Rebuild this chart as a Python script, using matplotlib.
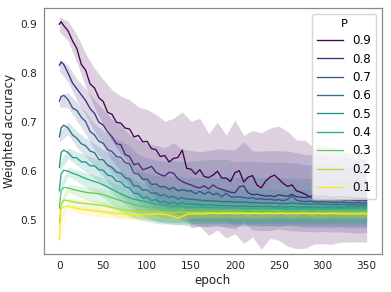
import matplotlib
matplotlib.use("Agg")
import matplotlib.pyplot as plt
from matplotlib import cm

# ---------------- data ----------------
P_LEVELS = [0.9, 0.8, 0.7, 0.6, 0.5, 0.4, 0.3, 0.2, 0.1]
EPOCHS = [0, 2] + list(range(5, 351, 5))          # 72 points
BAND_EPOCHS = list(range(0, 351, 10))             # 36 points
X_TICKS = [0, 50, 100, 150, 200, 250, 300, 350]
Y_TICKS = [0.5, 0.6, 0.7, 0.8, 0.9]

MEAN_09 = [.900, .905, .897, .886, .866, .850, .818, .806, .778, .770,
           .750, .742, .720, .716, .700, .698, .688, .686, .670, .673,
           .660, .661, .646, .644, .630, .632, .619, .626, .628, .643,
           .606, .604, .594, .603, .589, .587, .592, .600, .586, .586,
           .579, .597, .601, .578, .588, .591, .572, .566, .580, .588,
           .592, .584, .575, .569, .572, .560, .557, .553, .548, .551,
           .547, .550, .548, .546, .547, .549, .546, .547, .545, .546, .544, .545]
MEAN_08 = [.816, .823, .818, .800, .780, .768, .756, .744, .728, .718,
           .700, .694, .680, .670, .656, .654, .634, .630, .613, .616,
           .603, .606, .610, .598, .593, .590, .598, .596, .585, .579,
           .575, .572, .568, .566, .570, .564, .572, .566, .563, .560,
           .557, .556, .568, .570, .556, .552, .553, .551, .549, .550,
           .548, .552, .550, .549, .553, .548, .547, .546, .548, .545,
           .544, .545, .543, .544, .542, .543, .541, .542, .541, .540, .541, .540]
MEAN_07 = [.743, .752, .755, .746, .729, .724, .710, .701, .681, .674,
           .661, .657, .644, .640, .630, .628, .618, .615, .596, .594,
           .583, .584, .573, .574, .568, .569, .563, .567, .560, .562,
           .560, .560, .554, .559, .553, .558, .552, .555, .548, .555,
           .548, .547, .548, .546, .545, .546, .543, .544, .542, .543,
           .541, .542, .540, .543, .550, .541, .539, .538, .539, .538,
           .537, .538, .537, .537, .536, .537, .536, .536, .535, .536, .535, .535]
MEAN_06 = [.670, .688, .694, .688, .674, .667, .656, .652, .641, .638,
           .624, .623, .612, .608, .598, .596, .586, .584, .570, .570,
           .561, .562, .555, .556, .550, .552, .546, .549, .543, .546,
           .543, .543, .542, .541, .540, .540, .539, .539, .538, .538,
           .538, .537, .537, .537, .536, .536, .536, .535, .535, .535,
           .535, .534, .534, .534, .535, .534, .534, .533, .533, .533,
           .533, .533, .532, .532, .532, .532, .532, .531, .531, .531, .531, .531]
MEAN_05 = [.608, .638, .643, .638, .628, .627, .619, .619, .611, .611,
           .603, .602, .592, .590, .580, .578, .568, .566, .555, .554,
           .546, .547, .540, .542, .536, .539, .534, .537, .532, .536,
           .533, .533, .532, .532, .531, .531, .531, .530, .530, .530,
           .529, .529, .529, .529, .528, .528, .528, .528, .528, .528,
           .527, .528, .527, .527, .528, .527, .527, .527, .527, .527,
           .527, .527, .527, .527, .527, .527, .527, .527, .527, .527, .527, .527]
MEAN_04 = [.560, .595, .602, .600, .596, .593, .589, .585, .582, .579,
           .576, .572, .568, .563, .558, .554, .550, .546, .543, .541,
           .539, .537, .535, .533, .532, .531, .530, .529, .528, .528,
           .527, .527, .527, .527, .526, .526, .526, .526, .525, .525,
           .525, .525, .525, .524, .524, .524, .524, .524, .524, .524,
           .524, .524, .523, .523, .523, .523, .523, .523, .523, .523,
           .523, .523, .523, .523, .523, .523, .523, .523, .523, .523, .523, .523]
MEAN_03 = [.525, .560, .567, .566, .563, .561, .559, .557, .556, .555,
           .554, .552, .549, .546, .543, .540, .537, .534, .532, .530,
           .528, .527, .526, .525, .524, .523, .522, .522, .521, .521,
           .520, .520, .520, .520, .520, .520, .520, .520, .520, .520,
           .520, .520, .519, .519, .519, .519, .519, .519, .519, .519,
           .519, .519, .519, .519, .519, .519, .519, .519, .519, .519,
           .519, .519, .519, .519, .519, .519, .519, .519, .519, .519, .519, .519]
MEAN_02 = [.495, .533, .541, .540, .538, .536, .535, .534, .533, .532,
           .531, .530, .528, .526, .524, .522, .521, .520, .519, .519,
           .518, .518, .517, .517, .517, .516, .516, .516, .516, .516,
           .516, .516, .516, .516, .516, .516, .516, .516, .516, .516,
           .516, .516, .516, .515, .515, .515, .515, .515, .515, .515,
           .515, .515, .515, .515, .515, .515, .515, .515, .515, .515,
           .515, .515, .515, .515, .515, .515, .515, .515, .515, .515, .515, .515]
MEAN_01 = [.460, .520, .528, .528, .526, .524, .522, .521, .520, .519,
           .518, .517, .516, .515, .514, .513, .512, .511, .511, .511,
           .511, .512, .512, .513, .513, .512, .511, .507, .504, .508,
           .512, .513, .513, .513, .513, .514, .514, .513, .514, .514,
           .514, .513, .514, .514, .513, .514, .514, .513, .514, .514,
           .513, .514, .514, .513, .514, .513, .514, .514, .513, .513,
           .514, .513, .513, .514, .513, .513, .513, .513, .513, .513, .513, .513]

# band half-widths above / below the mean, on BAND_EPOCHS
UP_09 = [.015, .020, .028, .034, .040, .045, .050, .055, .060, .058, .065, .072,
         .070, .082, .078, .098, .105, .090, .100, .088, .108, .095, .092, .112,
         .100, .108, .112, .104, .110, .096, .104, .100, .095, .090, .094, .090]
DN_09 = [.015, .020, .028, .034, .040, .048, .055, .062, .070, .080, .090, .100,
         .105, .110, .115, .120, .115, .118, .120, .122, .125, .125, .125, .125,
         .125, .125, .122, .118, .110, .100, .098, .095, .094, .092, .090, .090]
UP_08 = [.012, .016, .020, .024, .028, .032, .036, .040, .044, .048, .050, .055,
         .058, .062, .066, .070, .074, .078, .080, .084, .088, .090, .090, .090,
         .092, .090, .092, .090, .088, .090, .088, .086, .088, .086, .085, .085]
DN_08 = [.012, .018, .024, .030, .036, .042, .048, .054, .060, .066, .070, .074,
         .076, .078, .078, .078, .078, .077, .076, .075, .074, .073, .072, .072,
         .071, .070, .070, .070, .069, .069, .068, .068, .067, .067, .066, .066]
UP_07 = [.012, .014, .017, .020, .023, .026, .030, .034, .037, .040, .044, .048,
         .052, .055, .058, .060, .063, .066, .068, .070, .072, .074, .075, .075,
         .075, .076, .075, .076, .075, .074, .075, .074, .073, .074, .073, .073]
DN_07 = [.012, .016, .021, .026, .031, .036, .042, .048, .054, .058, .062, .064,
         .065, .064, .063, .062, .061, .060, .059, .058, .057, .056, .055, .055,
         .054, .054, .053, .053, .053, .052, .052, .052, .051, .051, .051, .051]
UP_06 = [.010, .012, .014, .016, .018, .021, .024, .027, .030, .032, .034, .036,
         .038, .040, .042, .044, .046, .047, .048, .049, .050, .051, .052, .052,
         .052, .052, .052, .052, .052, .052, .052, .052, .052, .052, .052, .052]
DN_06 = [.010, .013, .018, .023, .028, .034, .040, .046, .050, .054, .056, .058,
         .058, .057, .056, .055, .054, .053, .052, .051, .050, .049, .048, .047,
         .046, .046, .045, .045, .045, .044, .044, .044, .044, .043, .043, .043]
UP_05 = [.009, .010, .012, .014, .016, .018, .020, .022, .024, .025, .026, .028,
         .029, .030, .031, .032, .032, .033, .033, .034, .034, .034, .035, .035,
         .035, .035, .035, .035, .035, .035, .035, .035, .035, .035, .035, .035]
DN_05 = [.009, .012, .015, .020, .025, .030, .034, .038, .041, .043, .044, .044,
         .043, .042, .041, .040, .039, .038, .037, .036, .035, .035, .034, .034,
         .034, .034, .033, .033, .033, .033, .033, .032, .032, .032, .032, .032]
UP_04 = [.008, .009, .010, .012, .013, .014, .015, .016, .017, .018, .019, .020,
         .020, .021, .021, .022, .022, .022, .022, .022, .022, .022, .022, .022,
         .022, .022, .022, .022, .022, .022, .022, .022, .022, .022, .022, .022]
DN_04 = [.008, .010, .014, .018, .022, .026, .030, .034, .038, .040, .040, .040,
         .039, .038, .036, .035, .034, .033, .032, .031, .030, .030, .030, .030,
         .030, .030, .030, .030, .030, .030, .030, .030, .030, .030, .030, .030]
UP_03 = [.007, .008, .009, .010, .011, .012, .012, .013, .013, .014, .014, .015,
         .015, .015, .015, .015, .015, .015, .015, .015, .015, .015, .015, .015,
         .015, .015, .015, .015, .015, .015, .015, .015, .015, .015, .015, .015]
DN_03 = [.007, .009, .012, .015, .018, .020, .022, .024, .026, .027, .027, .027,
         .026, .025, .024, .023, .022, .022, .021, .021, .020, .020, .020, .020,
         .020, .020, .020, .020, .020, .020, .020, .020, .020, .020, .020, .020]
UP_02 = [.006, .006, .007, .007, .008, .008, .008, .009, .009, .009, .009, .009,
         .009, .009, .009, .009, .009, .009, .009, .009, .009, .009, .009, .009,
         .009, .009, .009, .009, .009, .009, .009, .009, .009, .009, .009, .009]
DN_02 = [.006, .008, .010, .012, .014, .015, .016, .016, .016, .016, .015, .015,
         .014, .014, .013, .013, .012, .012, .012, .012, .011, .011, .011, .011,
         .011, .011, .011, .011, .011, .011, .011, .011, .011, .011, .011, .011]
UP_01 = [.005, .005, .005, .005, .005, .005, .005, .005, .005, .005, .005, .005,
         .005, .005, .005, .005, .005, .005, .005, .005, .005, .005, .005, .005,
         .005, .005, .005, .005, .005, .005, .005, .005, .005, .005, .005, .005]
DN_01 = [.005, .007, .009, .010, .011, .011, .011, .010, .010, .009, .009, .009,
         .008, .008, .008, .008, .008, .008, .008, .008, .008, .008, .008, .008,
         .007, .007, .007, .007, .007, .007, .007, .007, .007, .007, .007, .007]

SERIES = {
    0.9: (MEAN_09, UP_09, DN_09),
    0.8: (MEAN_08, UP_08, DN_08),
    0.7: (MEAN_07, UP_07, DN_07),
    0.6: (MEAN_06, UP_06, DN_06),
    0.5: (MEAN_05, UP_05, DN_05),
    0.4: (MEAN_04, UP_04, DN_04),
    0.3: (MEAN_03, UP_03, DN_03),
    0.2: (MEAN_02, UP_02, DN_02),
    0.1: (MEAN_01, UP_01, DN_01),
}

# ---------------- plot ----------------
fig = plt.figure(figsize=(3.91, 2.92), dpi=100)
ax = fig.add_axes([0.1125, 0.130, 0.8645, 0.8426])

for p in P_LEVELS:
    mean, up, dn = SERIES[p]
    color = cm.viridis((0.9 - p) / 0.8)
    band_mean = [mean[EPOCHS.index(e)] for e in BAND_EPOCHS]
    lo = [m - d for m, d in zip(band_mean, dn)]
    hi = [m + u for m, u in zip(band_mean, up)]
    ax.fill_between(BAND_EPOCHS, lo, hi, color=color, alpha=0.18, linewidth=0)
    ax.plot(EPOCHS, mean, color=color, lw=0.95, label=f"{p}")

ax.set_xlim(-17.5, 367.5)
ax.set_ylim(0.431, 0.933)
ax.set_xticks(X_TICKS)
ax.set_yticks(Y_TICKS)
ax.set_yticklabels([f"{v:.1f}" for v in Y_TICKS])
ax.tick_params(length=0, pad=5, labelsize=7.6, colors="#222222")
ax.set_xlabel("epoch", fontsize=8.6, labelpad=2, color="#222222")
ax.set_ylabel("Weighted accuracy", fontsize=8.6, labelpad=3, color="#222222")
for s in ax.spines.values():
    s.set_color("#888888")
    s.set_linewidth(0.9)

leg = ax.legend(title="P", loc="upper right", fontsize=8.6, title_fontsize=8.2,
                framealpha=0.8, handlelength=2.2, labelspacing=0.45)

fig.savefig("out.png", dpi=100)
